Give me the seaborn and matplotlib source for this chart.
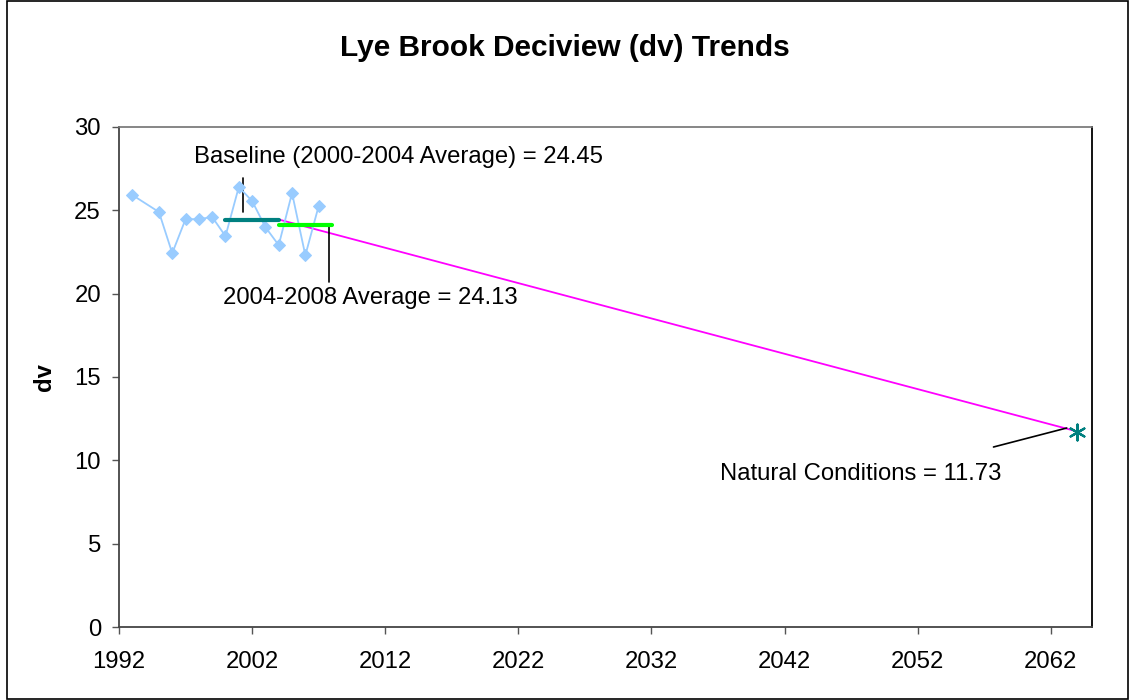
import numpy as np
import pandas as pd
import matplotlib
matplotlib.use("Agg")
import matplotlib.pyplot as plt
import seaborn as sns
from matplotlib.patches import Rectangle

# ==========================================
# DATA
# ==========================================
years = [1993, 1995, 1996, 1997, 1998, 1999, 2000, 2001, 2002, 2003, 2004, 2005, 2006, 2007]
dv_values = [25.92, 24.90, 22.43, 24.47, 24.47, 24.60, 23.45, 26.40, 25.56, 23.99, 22.91, 26.04, 22.30, 25.26]

baseline_years = [2000, 2004]
baseline_value = 24.45
recent_years = [2004, 2008]
recent_value = 24.13

glide_years = [2004, 2064]
glide_values = [24.45, 11.73]

natural_year = 2064
natural_value = 11.73

x_ticks = [1992, 2002, 2012, 2022, 2032, 2042, 2052, 2062]
y_ticks = [0, 5, 10, 15, 20, 25, 30]

# ==========================================
# STYLE
# ==========================================
sns.set_theme(style="white")
plt.rcParams["font.family"] = ["Liberation Sans", "DejaVu Sans"]
plt.rcParams["text.color"] = "black"
plt.rcParams["xtick.color"] = "black"
plt.rcParams["ytick.color"] = "black"
plt.rcParams["axes.labelcolor"] = "black"

FS = 17.2

fig = plt.figure(figsize=(11.3, 7.0), dpi=100)
ax = fig.add_axes([119 / 1130, 1 - 627 / 700, (1092 - 119) / 1130, (627 - 127) / 700])

df = pd.DataFrame({"year": years, "dv": dv_values})
glide = pd.DataFrame({"year": glide_years, "dv": glide_values})

# glide path (magenta)
sns.lineplot(data=glide, x="year", y="dv", color="#ff00ff", linewidth=1.3, ax=ax, zorder=2)

# observed annual values
sns.lineplot(data=df, x="year", y="dv", color="#99ccff", linewidth=1.3,
             marker="D", markersize=6, markeredgecolor="#99ccff", ax=ax, zorder=3)

# averages
ax.plot(baseline_years, [baseline_value] * 2, color="#008080", linewidth=3, zorder=4)
ax.plot(recent_years, [recent_value] * 2, color="#00ff00", linewidth=3, zorder=4)

# natural conditions
ax.scatter([natural_year], [natural_value], marker=(6, 2, 0), s=130, color="#008080",
           linewidths=1.6, zorder=5)

# annotations with leader lines
ax.plot([2001.3, 2001.3], [24.9, 26.94], color="black", lw=1.2)
ax.text(2013.0, 28.2, "Baseline (2000-2004 Average) = 24.45", ha="center", va="center", fontsize=FS)

ax.plot([2007.8, 2007.8], [20.7, 24.18], color="black", lw=1.2)
ax.text(2010.9, 19.74, "2004-2008 Average = 24.13", ha="center", va="center", fontsize=FS)

ax.plot([2057.7, 2063.2], [10.8, 11.94], color="black", lw=1.2)
ax.text(2047.7, 9.18, "Natural Conditions = 11.73", ha="center", va="center", fontsize=FS)

# axes
ax.set_xlim(1992, 2065.1)
ax.set_ylim(0, 30)
ax.set_xticks(x_ticks)
ax.set_yticks(y_ticks)
ax.tick_params(axis="both", labelsize=FS, length=5, width=1, color="#555555",
               direction="out", bottom=True, left=True)
ax.tick_params(axis="x", pad=12)
ax.tick_params(axis="y", pad=8)
ax.set_xlabel("")
ax.set_ylabel("dv", fontsize=FS, fontweight="bold", labelpad=13)
for side in ["left", "bottom"]:
    ax.spines[side].set_color("#444444")
    ax.spines[side].set_linewidth(1.3)
ax.spines["top"].set_color("#777777")
ax.spines["right"].set_color("black")
ax.spines["right"].set_linewidth(1.3)

fig.text(0.5, 1 - 48 / 700, "Lye Brook Deciview (dv) Trends", ha="center", va="center",
         fontsize=21.5, fontweight="bold")

fig.patches.append(Rectangle((0.006, 0.002), 0.992, 0.996, transform=fig.transFigure,
                             fill=False, edgecolor="black", linewidth=1.2))

fig.savefig("out.png", dpi=100)
